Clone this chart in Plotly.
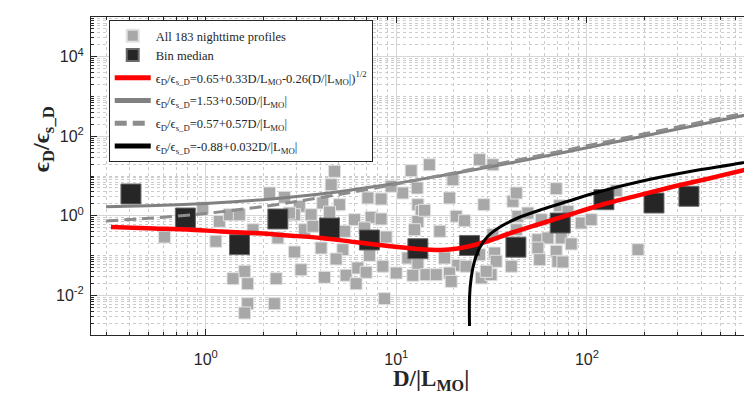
import plotly.graph_objects as go

# ---------------- data ----------------
gray_x = [4.74, 11.96, 4.55, 2.16, 2.59, 12.86, 10.8, 7.09, 8.32, 3.10,
          4.11, 5.03, 12.97, 0.964, 1.18, 1.33, 1.50, 2.92, 3.57, 6.03,
          7.37, 8.32, 13.5, 12.97, 3.30, 3.65, 1.77, 12.46, 0.607, 1.13,
          2.39, 5.35, 6.81, 8.84, 2.92, 4.03, 5.24, 4.83, 7.23, 11.49,
          12.97, 3.16, 1.60, 1.39, 1.66, 2.34, 4.20, 5.45, 6.28, 6.94,
          8.50, 9.98, 12.21, 6.15, 1.66, 2.29, 1.60, 8.67, 9.39, 19.0,
          19.8, 28.8, 40.9, 14.06, 20.6, 22.8, 2.75, 4.46, 16.9, 17.9,
          21.0, 23.2, 27.3, 32.8, 33.4, 40.1, 14.3, 16.2, 19.0, 19.4,
          27.9, 31.4, 14.9, 27.3, 32.1, 69.0, 42.6, 71.9, 142.5, 43.4,
          49.0, 57.6, 79.5, 93.3, 105.3, 32.1, 42.6, 55.3, 62.4, 73.3,
          82.7, 55.3, 69.0, 56.5, 70.4, 74.8, 29.6, 185.3]
gray_y = [13.1, 13.6, 6.04, 3.74, 2.91, 4.99, 3.74, 2.80, 2.64, 1.73,
          2.09, 1.90, 1.90, 1.57, 0.725, 1.06, 1.06, 1.06, 1.06, 0.796,
          0.914, 0.829, 1.29, 0.725, 0.446, 0.543, 0.446, 0.446, 0.292, 0.228,
          0.276, 0.406, 0.492, 0.292, 0.1225, 0.1544, 0.140, 0.0816, 0.101, 0.0865,
          0.0587, 0.0439, 0.040, 0.0261, 0.0195, 0.0261, 0.0283, 0.0318, 0.0485, 0.0378,
          0.0535, 0.0363, 0.0318, 0.0195, 0.00613, 0.00613, 0.00358, 0.00819, 5.51, 2.80,
          8.07, 1.90, 2.31, 1.37, 0.969, 0.751, 1.17, 1.24, 0.406, 0.0865,
          0.0567, 0.0535, 0.1047, 0.1156, 0.0715, 0.0535, 0.0329, 0.0329, 0.0363, 0.0224,
          0.0272, 0.0329, 19.2, 25.7, 19.2, 4.79, 3.74, 1.79, 4.27, 0.969,
          1.17, 0.796, 1.29, 0.657, 0.796, 0.334, 0.446, 0.250, 0.276, 0.276,
          0.195, 0.1544, 0.1275, 0.0784, 0.0715, 0.0686, 0.040, 0.140]

med_x = [0.405, 0.782, 1.503, 2.39, 4.46, 7.22, 12.97, 24.2, 42.4, 72.4,
         122.8, 224.8, 343, 771]
med_y = [3.53, 0.878, 0.187, 0.829, 0.492, 0.2455, 0.148, 0.179, 0.162, 0.657,
         2.53, 2.09, 3.09, 28.4]

red_x = [0.318, 0.538, 0.804, 1.203, 1.80, 2.69, 4.03, 6.03, 9.02, 12.97,
         17.1, 21.0, 25.7, 31.4, 38.5, 57.5, 86.1, 128.9, 192.8, 288.7,
         431.7, 645.7, 809]
red_y = [0.521, 0.478, 0.451, 0.402, 0.368, 0.319, 0.276, 0.219, 0.173, 0.146,
         0.1375, 0.150, 0.184, 0.2455, 0.3475, 0.638, 1.17, 2.09, 3.39, 5.51,
         8.55, 13.6, 17.5]

fit_x = [0.3, 0.5, 1, 2, 3, 5, 10, 20, 30, 50, 100, 200, 300, 500, 809]
solid_y = [1.68, 1.78, 2.03, 2.53, 3.03, 4.03, 6.53, 11.5, 16.5, 26.5,
           51.5, 101.5, 151.5, 251.5, 406]
dashed_y = [0.74, 0.86, 1.14, 1.71, 2.28, 3.42, 6.27, 12.0, 17.7, 29.1,
            57.6, 115, 172, 286, 462]

black_x = [24.2, 24.2, 24.7, 25.7, 27.3, 30.2, 35.5, 43.4, 57.5, 79.5,
           109.8, 192.8, 353, 645, 809]
black_y = [0.00168, 0.00853, 0.0272, 0.0715, 0.154, 0.304, 0.543, 0.878, 1.42, 2.31,
           3.74, 7.36, 13.1, 21.2, 26.8]

x_tickvals = [1, 10, 100]
x_ticktext = ["10<sup>0</sup>", "10<sup>1</sup>", "10<sup>2</sup>"]
y_tickvals = [1e-2, 1, 1e2, 1e4]
y_ticktext = ["10<sup>-2</sup>", "10<sup>0</sup>", "10<sup>2</sup>", "10<sup>4</sup>"]

EPS = "\u03f5"
names = [
    "All 183 nighttime profiles",
    "Bin median",
    EPS + "<sub>D</sub>/" + EPS + "<sub>s_D</sub>=0.65+0.33D/L<sub>MO</sub>-0.26(D/|L<sub>MO</sub>|)<sup>1/2</sup>",
    EPS + "<sub>D</sub>/" + EPS + "<sub>s_D</sub>=1.53+0.50D/|L<sub>MO</sub>|",
    EPS + "<sub>D</sub>/" + EPS + "<sub>s_D</sub>=0.57+0.57D/|L<sub>MO</sub>|",
    EPS + "<sub>D</sub>/" + EPS + "<sub>s_D</sub>=-0.88+0.032D/|L<sub>MO</sub>|",
]

# ---------------- figure ----------------
fig = go.Figure()
fig.add_trace(go.Scatter(x=gray_x, y=gray_y, mode="markers", name=names[0],
                         legendgroup="pts",
                         marker=dict(symbol="square", size=12, color="#a8a8a8",
                                     line=dict(color="#e2e2e2", width=1))))
fig.add_trace(go.Scatter(x=med_x, y=med_y, mode="markers", name=names[1],
                         legendgroup="pts",
                         marker=dict(symbol="square", size=20, color="#262626",
                                     line=dict(color="#6a6a6a", width=1))))
fig.add_trace(go.Scatter(x=red_x, y=red_y, mode="lines", name=names[2],
                         legendgroup="l1",
                         line=dict(color="#ff0000", width=4.5, shape="spline", smoothing=0.8)))
fig.add_trace(go.Scatter(x=fit_x, y=solid_y, mode="lines", name=names[3],
                         legendgroup="l2",
                         line=dict(color="#808080", width=3, shape="spline", smoothing=0.6)))
fig.add_trace(go.Scatter(x=fit_x, y=dashed_y, mode="lines", name=names[4],
                         legendgroup="l3",
                         line=dict(color="#8c8c8c", width=3, dash="12px,6px",
                                   shape="spline", smoothing=0.6)))
fig.add_trace(go.Scatter(x=black_x, y=black_y, mode="lines", name=names[5],
                         legendgroup="l4",
                         line=dict(color="#000000", width=3, shape="spline", smoothing=0.8)))

x_minor = [k * 10.0 ** e for e in (-1, 0, 1, 2) for k in range(2, 10)]
y_minor = [k * 10.0 ** e for e in range(-3, 5) for k in range(1, 10)
           if not (k == 1 and e in (-2, 0, 2, 4))]

axis_color = "#262626"
tick_font = dict(family="Liberation Sans, Arial, sans-serif", size=16, color=axis_color)

fig.update_xaxes(type="log", range=[-0.6021, 2.9081],
                 tickvals=x_tickvals, ticktext=x_ticktext, tickfont=tick_font,
                 ticks="inside", ticklen=6, tickcolor=axis_color,
                 showline=True, linecolor=axis_color, linewidth=1, mirror="ticks",
                 showgrid=True, gridcolor="#d6d6d6", gridwidth=1,
                 ticklabelstandoff=10,
                 minor=dict(tickvals=x_minor, ticks="inside", ticklen=3,
                            tickcolor=axis_color, showgrid=True,
                            gridcolor="#cccccc", griddash="dot", gridwidth=1),
                 zeroline=False)
fig.update_yaxes(type="log", range=[-3, 5],
                 tickvals=y_tickvals, ticktext=y_ticktext, tickfont=tick_font,
                 ticks="inside", ticklen=6, tickcolor=axis_color,
                 showline=True, linecolor=axis_color, linewidth=1, mirror=False,
                 showgrid=True, gridcolor="#d6d6d6", gridwidth=1,
                 ticklabelstandoff=3,
                 minor=dict(tickvals=y_minor, ticks="inside", ticklen=3,
                            tickcolor=axis_color, showgrid=True,
                            gridcolor="#cccccc", griddash="dot", gridwidth=1),
                 zeroline=False)

serif = "Liberation Serif, Times New Roman, serif"
fig.update_layout(
    width=752, height=396,
    margin=dict(l=83, r=0, t=9, b=69),
    plot_bgcolor="white", paper_bgcolor="white",
    showlegend=True,
    legend=dict(x=0.0265, y=0.99, xanchor="left", yanchor="top",
                bgcolor="white", bordercolor=axis_color, borderwidth=1,
                font=dict(family=serif, size=12.5, color=axis_color),
                itemsizing="constant", itemwidth=36, tracegroupgap=3.5,
                traceorder="grouped"),
    annotations=[
        dict(text="<b>D/|L<sub>MO</sub>|</b>", xref="paper", yref="paper",
             x=0.508, y=-0.0925, xanchor="center", yanchor="top", showarrow=False,
             font=dict(family=serif, size=23, color=axis_color)),
        dict(text="<b>" + EPS + "<sub>D</sub>/" + EPS + "<sub>s_D</sub></b>",
             xref="paper", yref="paper", x=-0.0717, y=0.616,
             xanchor="center", yanchor="middle", textangle=-90, showarrow=False,
             font=dict(family=serif, size=24, color=axis_color)),
    ],
)

fig.write_html("out.html")
